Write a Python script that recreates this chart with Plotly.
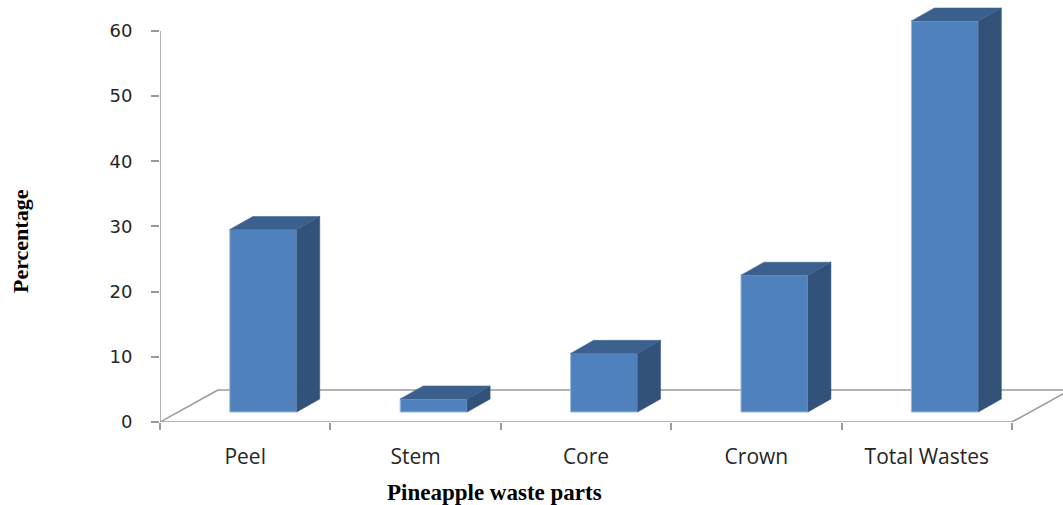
import plotly.graph_objects as go

# Share of pineapple waste by part (%)
categories = ["Peel", "Stem", "Core", "Crown", "Total Wastes"]
values = [28, 2, 9, 21, 60]
y_ticks = [0, 10, 20, 30, 40, 50, 60]

# Oblique-projection geometry, in axis units
PX_X = 170.4                  # pixels per category
PX_Y = 6.517                  # pixels per percentage point
X_MAX = 903 / PX_X
Y_MAX = 422 / PX_Y
FLOOR_DX, FLOOR_DY = 0.34, 4.91      # depth of the floor
BAR_SHIFT, BAR_W = 0.106, 0.393      # front-face offset and width
BAR_BASE = 1.53                      # front-face base height
BAR_DX, BAR_DY = 0.135, 2.0          # depth of each bar

FRONT = "#4F81BD"
SIDE = "#32527A"
TOP = "#3B608E"
EDGE = "#9DBBE0"
AXIS = "#9A9A9A"

centers = [i + 0.5 + BAR_SHIFT for i in range(len(categories))]

fig = go.Figure()

# Front faces
fig.add_trace(go.Bar(
    x=centers, y=values, base=[BAR_BASE] * len(values), width=BAR_W,
    marker=dict(color=FRONT, line=dict(color=EDGE, width=1)),
    hoverinfo="skip", showlegend=False,
))

# Side and top faces
for c, v in zip(centers, values):
    x0, x1 = c - BAR_W / 2, c + BAR_W / 2
    y0, y1 = BAR_BASE, BAR_BASE + v
    fig.add_trace(go.Scatter(
        x=[x1, x1 + BAR_DX, x1 + BAR_DX, x1, x1],
        y=[y0, y0 + BAR_DY, y1 + BAR_DY, y1, y0],
        fill="toself", fillcolor=SIDE, mode="lines",
        line=dict(color=SIDE, width=0.5), hoverinfo="skip", showlegend=False,
    ))
    fig.add_trace(go.Scatter(
        x=[x0, x1, x1 + BAR_DX, x0 + BAR_DX, x0],
        y=[y1, y1, y1 + BAR_DY, y1 + BAR_DY, y1],
        fill="toself", fillcolor=TOP, mode="lines",
        line=dict(color=TOP, width=0.5), hoverinfo="skip", showlegend=False,
    ))

# Floor outline and value axis line, behind the bars
n = len(categories)
floor_lines = [
    (0, 0, n, 0),
    (FLOOR_DX, FLOOR_DY, n + FLOOR_DX, FLOOR_DY),
    (0, 0, FLOOR_DX, FLOOR_DY),
    (n, 0, n + FLOOR_DX, FLOOR_DY),
    (0, 0, 0, y_ticks[-1]),
]
for xa, ya, xb, yb in floor_lines:
    fig.add_shape(type="line", xref="x", yref="y", x0=xa, y0=ya, x1=xb, y1=yb,
                  line=dict(color=AXIS, width=1.5), layer="below")

L, B = 160, 83
W, H = 1063, 505
pw, ph = W - L, H - B

fig.update_layout(
    width=W, height=H,
    margin=dict(l=L, r=0, t=0, b=B),
    plot_bgcolor="white", paper_bgcolor="white",
    showlegend=False,
    xaxis=dict(
        range=[0, X_MAX], showgrid=False, zeroline=False, showline=False,
        tickvals=[i + 0.5 for i in range(n)], ticktext=categories,
        ticks="", ticklabelstandoff=20,
        tickfont=dict(family="Open Sans", size=21, color="#262626"),
        minor=dict(tickvals=list(range(n + 1)), ticks="outside", ticklen=7,
                   tickcolor=AXIS, tickwidth=1.5, showgrid=False),
    ),
    yaxis=dict(
        range=[0, Y_MAX], showgrid=False, zeroline=False, showline=False,
        tickvals=y_ticks, ticks="outside", ticklen=8, tickcolor=AXIS, tickwidth=1.5,
        ticklabelstandoff=15,
        tickfont=dict(family="DejaVu Sans", size=18, color="#262626"),
    ),
    annotations=[
        dict(text="<b>Percentage</b>", x=(21 - L) / pw, y=(H - B - 241) / ph,
             xref="paper", yref="paper", xanchor="center", yanchor="middle",
             showarrow=False, textangle=-90,
             font=dict(family="Liberation Serif", size=22, color="black")),
        dict(text="<b>Pineapple waste parts</b>", x=(494 - L) / pw, y=(H - B - 492) / ph,
             xref="paper", yref="paper", xanchor="center", yanchor="middle",
             showarrow=False,
             font=dict(family="Liberation Serif", size=23, color="black")),
    ],
)

fig.write_html("out.html")
